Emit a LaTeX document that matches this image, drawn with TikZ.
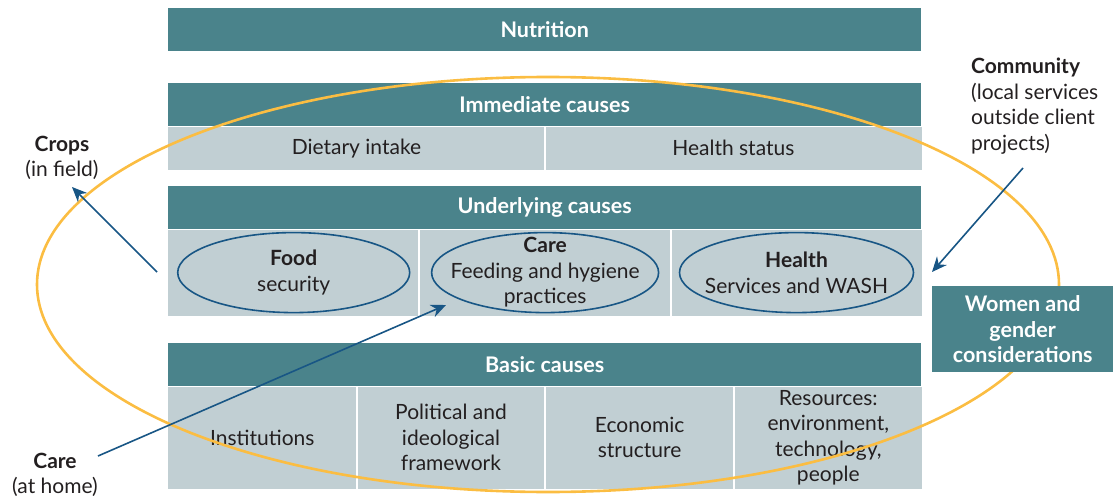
\documentclass[tikz,border=0pt]{standalone}
\usepackage{fontspec}
\setmainfont{Lato}
\usetikzlibrary{positioning,shapes.geometric,arrows.meta}

\definecolor{barteal}{HTML}{4A838B}
\definecolor{cellgrey}{HTML}{C1CFD3}
\definecolor{ringgold}{HTML}{FBBD42}
\definecolor{arrowblue}{HTML}{185685}
\definecolor{inkdark}{HTML}{231F20}

\begin{document}
\begin{tikzpicture}[x=1pt, y=-1pt,
	bar/.style={rectangle, draw=none, fill=barteal, text=white,
		font=\bfseries\fontsize{21.5}{25.5}\selectfont, inner sep=0pt,
		minimum width=753pt, minimum height=43pt, anchor=north west},
	cell/.style={rectangle, draw=none, fill=cellgrey, text=inkdark,
		font=\fontsize{21}{25.5}\selectfont, align=center, inner sep=0pt},
	divider/.style={draw=white, line width=2pt},
	oval/.style={ellipse, draw=arrowblue, line width=1.6pt, inner sep=0pt,
		minimum width=232pt, minimum height=80pt},
	side/.style={text=inkdark, font=\fontsize{21}{25.5}\selectfont, inner sep=0pt},
	pointer/.style={draw=arrowblue, line width=1.6pt, -{Stealth[length=15pt,width=13pt]}},
	ring/.style={draw=ringgold, line width=2.6pt}
	]
	\useasboundingbox (0,0) rectangle (1116,497);
	% bars
	\node (nut) [bar] at (168,8) {Nutrition};
	\node (imm) [bar] at (168,83) {Immediate causes};
	\node (imm1) [cell, minimum width=376.5pt, minimum height=43pt, anchor=north west] at (imm.south west) {Dietary intake};
	\node (imm2) [cell, minimum width=376.5pt, minimum height=43pt, right=0pt of imm1] {Health status};
	\draw[divider] (imm1.north east) -- (imm1.south east);

	\node (und) [bar] at (168,186) {Underlying causes};
	\node (und1) [cell, minimum width=251pt, minimum height=86pt, anchor=north west] at (und.south west) {\textbf{Food}\\security};
	\node (und2) [cell, minimum width=251pt, minimum height=86pt, right=0pt of und1] {\textbf{Care}\\Feeding and hygiene\\practices};
	\node (und3) [cell, minimum width=251pt, minimum height=86pt, right=0pt of und2] {\textbf{Health}\\Services and WASH};
	\draw[divider] (und1.north east) -- (und1.south east);
	\draw[divider] (und2.north east) -- (und2.south east);
	\node (food) [oval] at (und1.center) {};
	\node (care) [oval, minimum width=227pt] at (und2.center) {};
	\node (health) [oval, minimum width=234pt] at (und3.center) {};

	\node (bas) [bar] at (168,343) {Basic causes};
	\node (bas1) [cell, minimum width=188.25pt, minimum height=102pt, anchor=north west] at (bas.south west) {Institutions};
	\node (bas2) [cell, minimum width=188.25pt, minimum height=102pt, right=0pt of bas1] {Political and\\ideological\\framework};
	\node (bas3) [cell, minimum width=188.25pt, minimum height=102pt, right=0pt of bas2] {Economic\\structure};
	\node (bas4) [cell, minimum width=188.25pt, minimum height=102pt, right=0pt of bas3] {Resources:\\environment,\\technology,\\people};
	\foreach \c in {bas1,bas2,bas3}
		\draw[divider] (\c.north east) -- (\c.south east);

	% gold ring, behind the side box
	\draw[ring] (548,284.5) ellipse [x radius=511pt, y radius=207.5pt];
	\node (women) [bar, minimum width=181pt, minimum height=86pt, align=center] at (932,286) {Women and\\gender\\considerations};

	% side labels
	\node (crops) [side, align=center] at (62,158) {\textbf{Crops}\\(in field)};
	\node (comm) [side, align=left, anchor=west] at (971,106) {\textbf{Community}\\(local services\\outside client\\projects)};
	\node (home) [side, align=center] at (55,475) {\textbf{Care}\\(at home)};

	% arrows
	\coordinate (cropsTail) at (157,272);
	\coordinate (cropsTip) at (72,187);
	\coordinate (commTail) at (1023,168);
	\coordinate (commTip) at (932,272);
	\coordinate (homeTail) at (98,456);
	\coordinate (homeTip) at (446,305);
	\draw[pointer] (cropsTail) -- (cropsTip);
	\draw[pointer] (commTail) -- (commTip);
	\draw[pointer] (homeTail) -- (homeTip);
\end{tikzpicture}
\end{document}
